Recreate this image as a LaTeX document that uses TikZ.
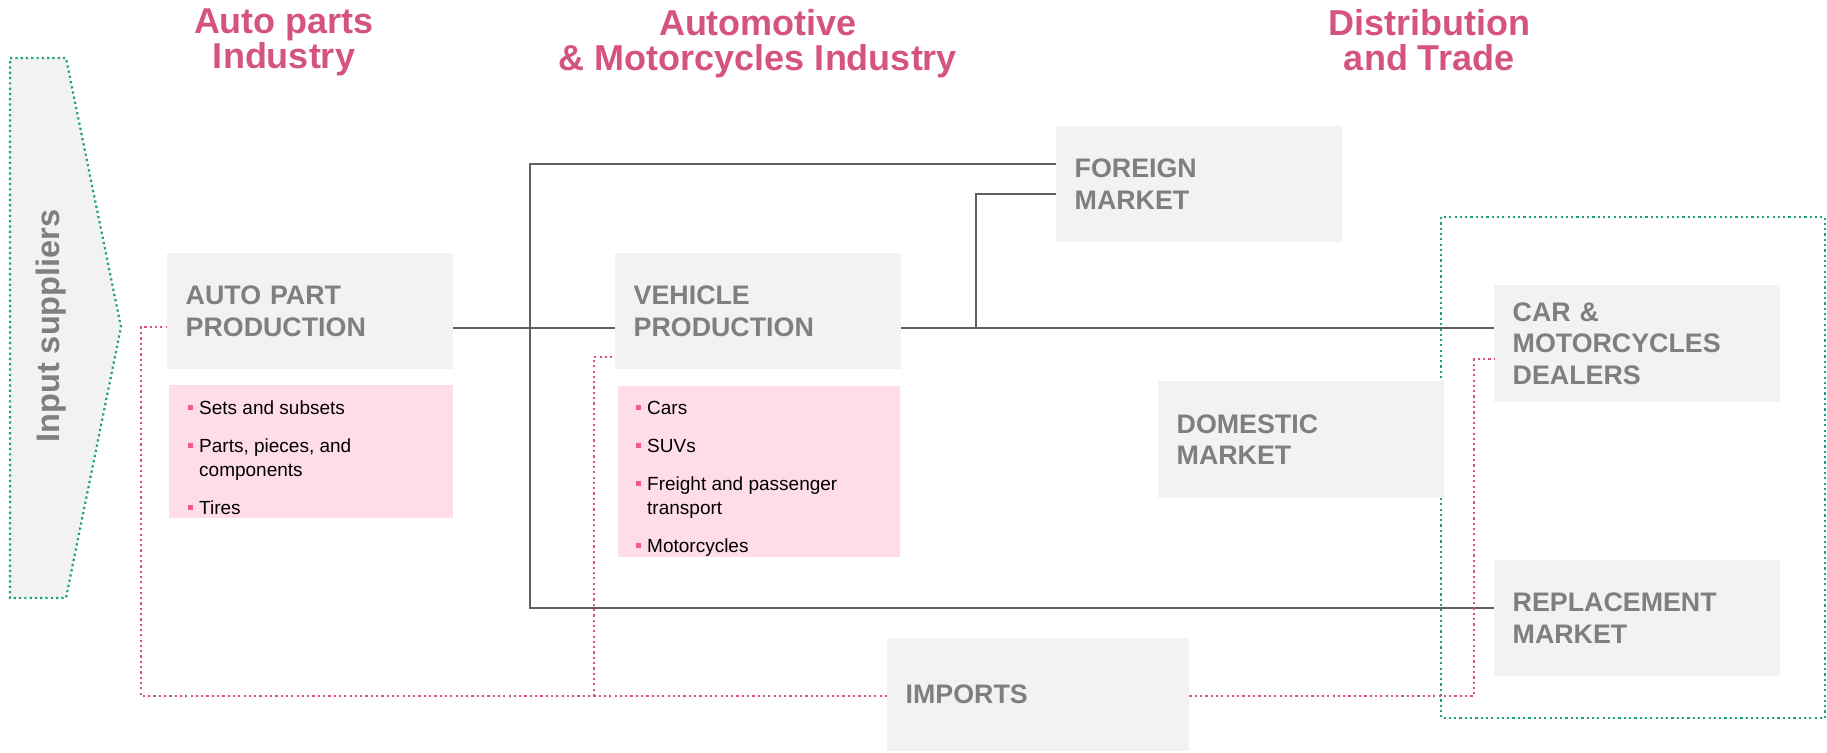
\documentclass[tikz,border=0pt]{standalone}
\usepackage{fontspec}
\setmainfont{Liberation Sans}
\usetikzlibrary{positioning}
\definecolor{boxgray}{HTML}{F2F2F2}
\definecolor{labelgray}{HTML}{7F7F7F}
\definecolor{headpink}{HTML}{D4547E}
\definecolor{listpink}{HTML}{FFDDE6}
\definecolor{bulletpink}{HTML}{F55A8C}
\definecolor{importpink}{HTML}{DC4F82}
\definecolor{groupteal}{HTML}{1E9E82}
\definecolor{linkgray}{HTML}{5F5F5F}
\newcommand{\sqbullet}{\textcolor{bulletpink}{\rule[4pt]{5pt}{5pt}}}

\begin{document}
\begin{tikzpicture}[x=1pt,y=-1pt,
  graybox/.style={fill=boxgray,text=labelgray,font=\fontsize{26.8}{31.5}\selectfont\bfseries,
    align=left,anchor=north west,inner xsep=18.5pt,inner ysep=0pt,text width=249pt,minimum height=116pt},
  listbox/.style={fill=listpink,anchor=north west,inner sep=0pt},
  listtext/.style={font=\fontsize{19}{24}\selectfont,inner sep=0pt},
  heading/.style={text=headpink,font=\fontsize{36}{35}\selectfont\bfseries,align=center,anchor=north,inner sep=0pt},
  link/.style={draw=linkgray,line width=2pt},
  importlink/.style={draw=importpink,line width=2.2pt,dash pattern=on 2.2pt off 3.1pt},
  groupframe/.style={draw=groupteal,line width=2.2pt,dash pattern=on 2.2pt off 3.1pt}]
\useasboundingbox (0,0) rectangle (1827,752);

% column titles
\node[heading] (hparts) at (284,9) {Auto parts\\Industry};
\node[heading] (hauto) at (758,9) {Automotive\\\& Motorcycles Industry};
\node[heading] (htrade) at (1429,9) {Distribution\\and Trade};

% input arrow and distribution frame
\draw[groupframe,fill=boxgray] (10,58) -- (66,58) -- (121,327) -- (66,598) -- (10,598) -- cycle;
\node[rotate=90,text=labelgray,font=\fontsize{32.5}{32.5}\selectfont\bfseries] (suppliers) at (51,326) {Input suppliers};
\draw[groupframe] (1441,217) rectangle (1825,718);

% stages
\node[graybox] (partprod) at (167,253) {AUTO PART\\PRODUCTION};
\node[graybox] (vehprod) at (615,253) {VEHICLE\\PRODUCTION};
\node[graybox] (foreign) at (1056,126) {FOREIGN\\MARKET};
\node[graybox,minimum height=117pt] (dealers) at (1494,285) {CAR \&\\MOTORCYCLES\\DEALERS};
\node[graybox,minimum height=117pt] (domestic) at (1158,381) {DOMESTIC\\MARKET};
\node[graybox] (replace) at (1494,560) {REPLACEMENT\\MARKET};
\node[graybox,text width=265pt,minimum height=113pt] (imports) at (887,638) {IMPORTS};

% product lists
\node[listbox,minimum width=284pt,minimum height=133pt] (partlist) at (169,385) {};
\node[listtext,below right=12.2pt and 19pt of partlist.north west] (partitems) {%
  \begin{tabular}{@{}l@{\hspace{6pt}}l@{}}
  \sqbullet & Sets and subsets\\[14pt]
  \sqbullet & Parts, pieces, and\\
            & components\\[14pt]
  \sqbullet & Tires
  \end{tabular}};
\node[listbox,minimum width=282pt,minimum height=171pt] (vehlist) at (618,386) {};
\node[listtext,below right=11.2pt and 18pt of vehlist.north west] (vehitems) {%
  \begin{tabular}{@{}l@{\hspace{6pt}}l@{}}
  \sqbullet & Cars\\[14pt]
  \sqbullet & SUVs\\[14pt]
  \sqbullet & Freight and passenger\\
            & transport\\[14pt]
  \sqbullet & Motorcycles
  \end{tabular}};

% flows
\coordinate (mainrow) at (0,328);
\coordinate (trunktop) at (530,164);
\coordinate (trunkbot) at (530,608);
\coordinate (fork) at (976,328);
\coordinate (forkrow) at (0,194);
\draw[link] (partprod.east |- mainrow) -- (vehprod.west |- mainrow);
\draw[link] (vehprod.east |- mainrow) -- (dealers.west |- mainrow);
\draw[link] (foreign.west |- trunktop) -- (trunktop) -- (trunkbot) -- (replace.west |- trunkbot);
\draw[link] (fork) -- (fork |- forkrow) -- (foreign.west |- forkrow);

% imports
\coordinate (importrow) at (0,696);
\coordinate (partturn) at (141,327);
\coordinate (vehturn) at (594,357);
\coordinate (dealturn) at (1474,359);
\draw[importlink] (imports.west |- importrow) -| (partturn) -- (partprod.west |- partturn);
\draw[importlink] (vehturn |- importrow) -- (vehturn) -- (vehprod.west |- vehturn);
\draw[importlink] (imports.east |- importrow) -| (dealturn) -- (dealers.west |- dealturn);
\end{tikzpicture}
\end{document}
